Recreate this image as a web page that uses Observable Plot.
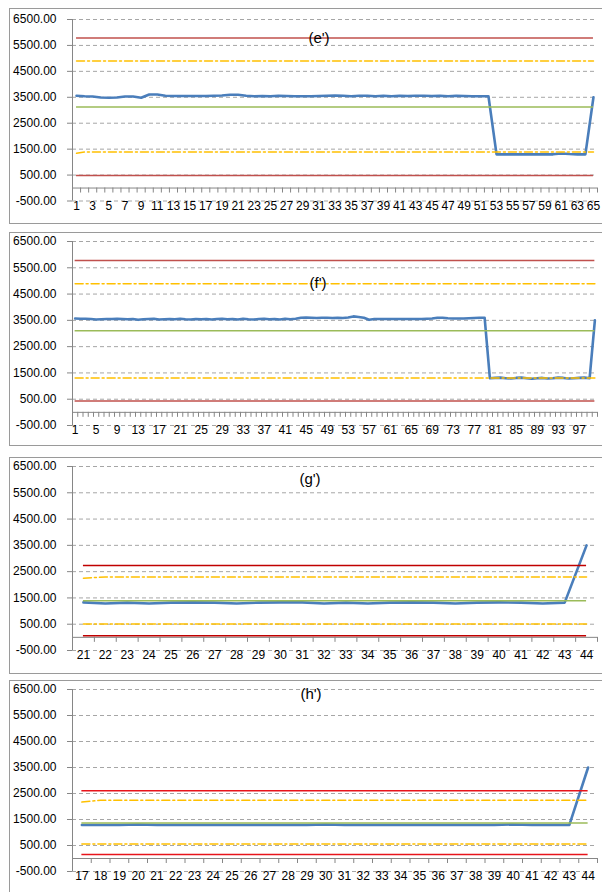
<!DOCTYPE html>
<html><head><meta charset="utf-8">
<script src="https://cdn.jsdelivr.net/npm/d3@7"></script>
<script src="https://cdn.jsdelivr.net/npm/@observablehq/plot@0.6"></script>
<style>
html,body{margin:0;padding:0;background:#fff;}
body{width:602px;height:892px;overflow:hidden;position:relative;font-family:"Liberation Sans",Arial,sans-serif;}
.panel{position:absolute;left:9px;width:700px;border:1px solid #9a9a9a;box-sizing:border-box;background:#fff;}
.chart{position:absolute;left:0;}
.title{position:absolute;font-size:15px;color:#000;transform:translate(-50%,-50%);white-space:nowrap;}
</style></head><body>
<script>
// ---- data ----
const yTicks = [6500, 5500, 4500, 3500, 2500, 1500, 500, -500];
const titles = ["(e')", "(f')", "(g')", "(h')"];
const firstCats = [1, 1, 21, 17];
const lastCats = [65, 100, 44, 44];
const labelSteps = [2, 4, 1, 1];

const blueE = [3560,3540,3530,3490,3480,3490,3530,3530,3480,3610,3610,3560,3550,3550,3550,3550,3550,3560,3570,3600,3600,3560,3540,3550,3540,3560,3550,3540,3540,3540,3550,3560,3570,3560,3540,3560,3560,3540,3560,3540,3560,3550,3560,3560,3550,3560,3540,3560,3550,3540,3540,3540,1300,1300,1300,1300,1300,1300,1300,1300,1330,1310,1300,1300,3500];
const blueF = [3570,3560,3560,3550,3530,3540,3550,3550,3560,3550,
  3540,3550,3520,3540,3550,3560,3530,3540,3550,3540,
  3560,3540,3530,3550,3540,3550,3530,3550,3560,3540,
  3550,3530,3560,3540,3530,3550,3560,3540,3550,3530,
  3560,3540,3560,3600,3610,3600,3590,3600,3600,3590,
  3600,3590,3610,3650,3630,3600,3520,3550,3550,3550,
  3550,3550,3550,3550,3550,3550,3550,3560,3570,3600,
  3600,3580,3570,3570,3570,3580,3590,3600,3600,1300,
  1310,1320,1300,1290,1310,1320,1300,1280,1300,1310,
  1290,1300,1320,1310,1290,1300,1310,1320,1300,3500];
const blueG = [1330,1290,1320,1290,1320,1330,1320,1290,1320,1330,1330,1290,1320,1290,1320,1330,1320,1290,1320,1330,1320,1290,1320,3500];
const blueH = [1290,1290,1290,1310,1290,1290,1290,1290,1290,1290,1290,1290,1290,1310,1290,1290,1290,1290,1290,1290,1290,1290,1290,1310,1290,1290,1290,3500];
const blues = [blueE, blueF, blueG, blueH];

// control limits per panel: [UCL, UWL, CL, LWL, LCL]
const limitsE = [5790, 4900, 3130, 1390, 480];
const limitsF = [5780, 4890, 3100, 1310, 430];
const limitsG = [2730, 2300, 1390, 510, 60];
const limitsH = [2610, 2240, 1370, 560, 150];
const limits = [limitsE, limitsF, limitsG, limitsH];
// first point of the warning series (slightly off the rest): [UWL first, LWL first]
const warnFirst = [[4900, 1340], [4890, 1310], [2250, 510], [2170, 560]];

const redColors = ["#C0504D", "#C0504D", "#C00000", "#E8141B"];

// ---- layout ----
const boxes = [[8, 223], [232, 445], [457, 673], [680, 960]];
const plotYs = [[18.5, 200], [241, 425], [466, 650], [689, 871]];
const titlePos = [[319, 37], [318, 282], [310, 478], [311, 693]];

const MT = 10, MB = 24;
const axisColor = "#868686";

for (let p = 0; p < 4; p++) {
  const a = firstCats[p], b = lastCats[p];
  const cats = d3.range(a, b + 1);
  const labelCats = cats.filter((c, i) => i % labelSteps[p] === 0);
  const bounds = d3.range(a - 0.5, b + 1, 1);
  const blue = blues[p].map((v, i) => ({x: cats[i], y: v}));
  const [ucl, uwl, cl, lwl, lcl] = limits[p];
  const [uwl0, lwl0] = warnFirst[p];
  const uwlLine = [{x: a, y: uwl0}, {x: a + 1, y: uwl}, {x: b, y: uwl}];
  const lwlLine = [{x: a, y: lwl0}, {x: a + 1, y: lwl}, {x: b, y: lwl}];

  const box = document.createElement("div");
  box.className = "panel";
  box.style.top = boxes[p][0] + "px";
  box.style.height = (boxes[p][1] - boxes[p][0] + 1) + "px";
  document.body.appendChild(box);

  const [yt, yb] = plotYs[p];
  const h = (yb - yt) + MT + MB;
  const chart = Plot.plot({
    width: 602, height: h,
    marginLeft: 72, marginRight: 5, marginTop: MT, marginBottom: MB,
    x: {domain: [a - 0.5, b + 0.5], axis: null},
    y: {domain: [-500, 6500], axis: null},
    style: {fontFamily: "'Liberation Sans', Arial, sans-serif", fontSize: "12px", background: "transparent", overflow: "visible", color: "#000"},
    marks: [
      Plot.ruleY(yTicks, {stroke: "#a6a6a6", strokeWidth: 1, strokeDasharray: "4,3"}),
      Plot.ruleY([0], {stroke: axisColor, strokeWidth: 1}),
      Plot.ruleX(bounds, {y1: 0, y2: 0, insetBottom: -5, stroke: axisColor}),
      Plot.ruleX([a - 0.5], {y1: -500, y2: 6500, stroke: axisColor}),
      Plot.ruleY(yTicks, {x1: a - 0.5, x2: a - 0.5, insetLeft: -5, stroke: axisColor}),
      Plot.text(yTicks, {y: d => d, frameAnchor: "left", textAnchor: "end", dx: -16, text: d => d.toFixed(2), fill: "#000"}),
      Plot.text(labelCats, {x: d => d, frameAnchor: "bottom", dy: 5, lineAnchor: "middle", text: d => String(d), fill: "#000"}),
      Plot.line(blue, {x: "x", y: "y", stroke: "#4A7EBB", strokeWidth: 2.6, strokeLinejoin: "round"}),
      Plot.ruleY([ucl], {x1: a, x2: b, stroke: redColors[p], strokeWidth: 1.5}),
      Plot.line(uwlLine, {x: "x", y: "y", stroke: "#FFC000", strokeWidth: 1.5, strokeDasharray: "8,3,2,3"}),
      Plot.ruleY([cl], {x1: a, x2: b, stroke: "#9BBB59", strokeWidth: 1.5}),
      Plot.line(lwlLine, {x: "x", y: "y", stroke: "#FFC000", strokeWidth: 1.5, strokeDasharray: "8,3,2,3"}),
      Plot.ruleY([lcl], {x1: a, x2: b, stroke: redColors[p], strokeWidth: 1.5})
    ]
  });
  chart.classList.add("chart");
  chart.style.position = "absolute";
  chart.style.left = "0px";
  chart.style.top = (yt - MT) + "px";
  document.body.appendChild(chart);

  const t = document.createElement("div");
  t.className = "title";
  t.textContent = titles[p];
  t.style.left = titlePos[p][0] + "px";
  t.style.top = titlePos[p][1] + "px";
  document.body.appendChild(t);
}
</script>
</body></html>
